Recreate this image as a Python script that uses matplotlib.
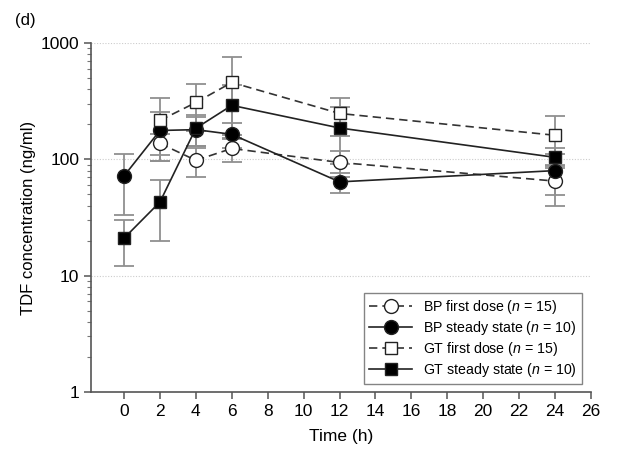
import matplotlib
matplotlib.use("Agg")
import matplotlib.pyplot as plt
from matplotlib.lines import Line2D
import numpy as np

plt.rcParams['font.family'] = ['Liberation Sans', 'DejaVu Sans']
plt.rcParams['mathtext.fontset'] = 'custom'
plt.rcParams['mathtext.it'] = 'Liberation Sans:italic'
plt.rcParams['mathtext.rm'] = 'Liberation Sans'

# Data
time_first = [2, 4, 6, 12, 24]
time_ss = [0, 2, 4, 6, 12, 24]

bp_first = [137, 98, 124, 94, 65]
bp_first_sd = [29, 27, 29, 23, 25]

bp_ss = [72, 177, 180, 164, 64, 80]
bp_ss_sd = [39, 80, 50, 40, 13, 31]

gt_first = [216, 308, 458, 248, 161]
gt_first_sd = [120, 132, 297, 90, 74]

gt_ss = [21, 43, 185, 291, 186, 104]
gt_ss_sd = [9, 23, 55, 141, 95, 20]

labels = ['BP first dose ($n$ = 15)', 'BP steady state ($n$ = 10)',
          'GT first dose ($n$ = 15)', 'GT steady state ($n$ = 10)']
x_ticks = list(range(0, 27, 2))

fig = plt.figure(figsize=(6.21, 4.51), dpi=100)
ax = fig.add_axes([91/621, 1-392/451, 500/621, 349/451])

ecol = '#909090'
series = [
    (time_first, bp_first, bp_first_sd, 'o', 'white', (0, (5, 3)), 10),
    (time_ss, bp_ss, bp_ss_sd, 'o', 'black', '-', 10),
    (time_first, gt_first, gt_first_sd, 's', 'white', (0, (5, 3)), 8.5),
    (time_ss, gt_ss, gt_ss_sd, 's', 'black', '-', 8.5),
]
handles = []
for i, (t, y, sd, mk, fc, ls, ms) in enumerate(series):
    ax.errorbar(t, y, yerr=sd, fmt='none', ecolor=ecol, elinewidth=1.3,
                capsize=7.5, capthick=1.3, zorder=2)
for i, (t, y, sd, mk, fc, ls, ms) in enumerate(series):
    lc = '#333333' if fc == 'white' else '#222222'
    ax.plot(t, y, linestyle=ls, color=lc, lw=1.2, zorder=3)
    ax.plot(t, y, linestyle='none', marker=mk, markersize=ms, markerfacecolor=fc,
            markeredgecolor='#222222', markeredgewidth=1.0, zorder=4)
    handles.append(Line2D([0], [0], linestyle=ls, color=lc, lw=1.2, marker=mk,
                          markersize=ms, markerfacecolor=fc,
                          markeredgecolor='#222222', markeredgewidth=1.0))

ax.set_yscale('log')
ax.set_ylim(1, 1000)
ax.set_xlim(-1.84, 26)
ax.set_xticks(x_ticks)
ax.set_yticks([1, 10, 100, 1000])
ax.set_yticklabels(['1', '10', '100', '1000'])
for yv in [10, 100, 1000]:
    ax.axhline(yv, color='#cccccc', lw=0.8, linestyle=(0, (1, 1.5)), zorder=1)

for s in ['top', 'right']:
    ax.spines[s].set_visible(False)
for s in ['left', 'bottom']:
    ax.spines[s].set_color('#555555')
    ax.spines[s].set_linewidth(1.2)
ax.tick_params(axis='both', which='major', direction='out', length=5, width=1.1,
               color='#555555', labelsize=12.5)
ax.tick_params(axis='y', which='minor', direction='out', length=3, width=0.8,
               color='#777777')
ax.tick_params(axis='y', which='minor', labelleft=False)

ax.set_xlabel('Time (h)', fontsize=12.5, labelpad=7)
ax.set_ylabel('TDF concentration (ng/ml)', fontsize=12, labelpad=3)

leg = ax.legend(handles, labels, loc='lower right', bbox_to_anchor=(0.982, 0.023),
                fontsize=10.2, frameon=True, fancybox=False, handlelength=3.0,
                borderpad=0.35, labelspacing=0.22, handletextpad=0.8,
                borderaxespad=0.0)
leg.get_frame().set_edgecolor('#666666')
leg.get_frame().set_linewidth(1.0)

fig.text(15/621, 1-20/451, '(d)', fontsize=12, va='center', ha='left')

fig.savefig('out.png', dpi=100)
